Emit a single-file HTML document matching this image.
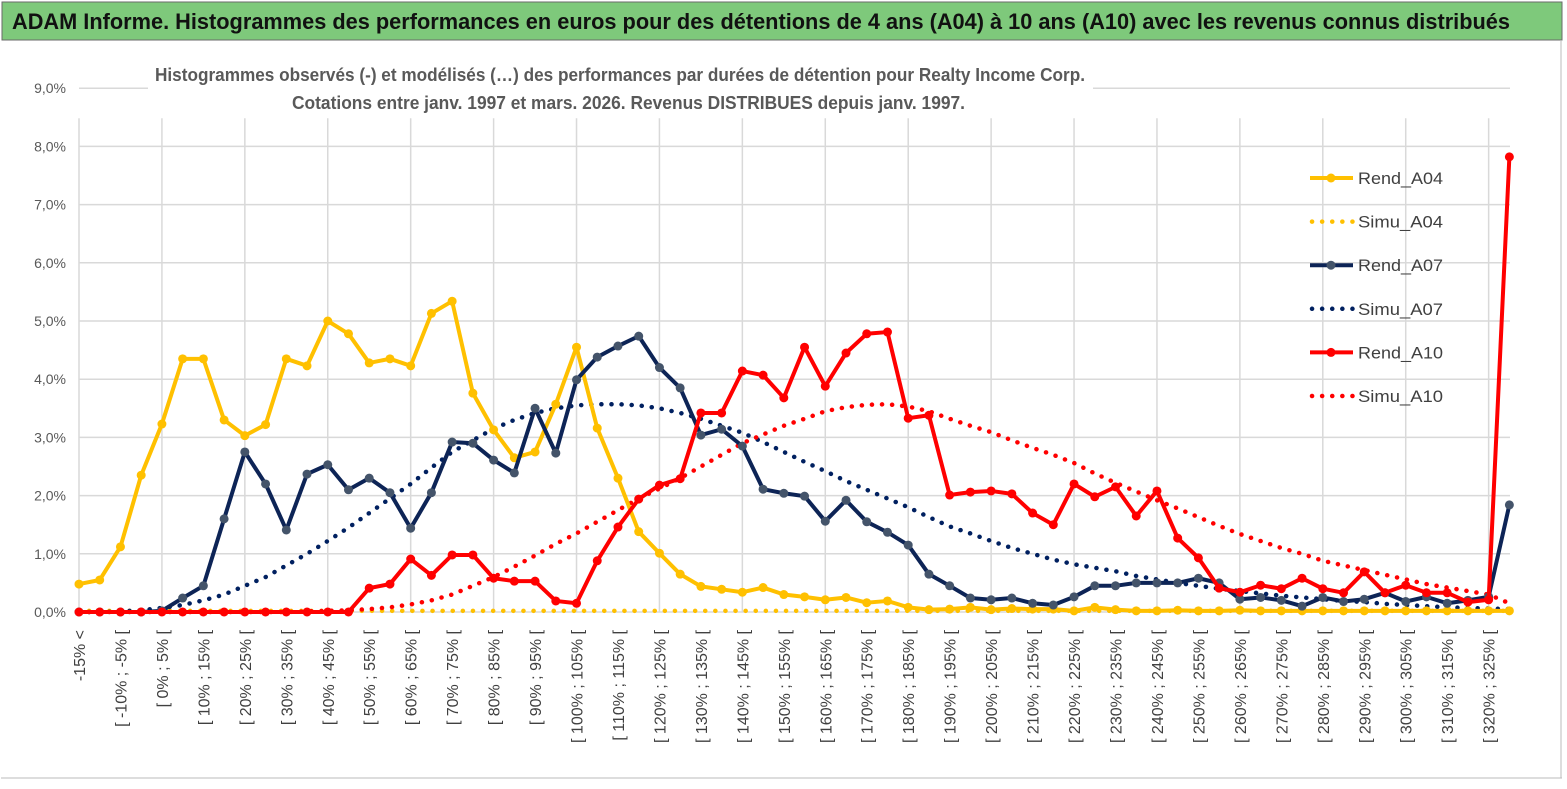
<!DOCTYPE html>
<html><head><meta charset="utf-8"><style>
body{margin:0;background:#fff;width:1567px;height:789px;overflow:hidden}
svg{display:block;font-family:"Liberation Sans",sans-serif}
</style></head><body>
<svg id="chart" width="1567" height="789" viewBox="0 0 1567 789">
<rect x="0" y="0" width="1567" height="789" fill="#fff"/>
<rect x="2" y="2" width="1560" height="38" fill="#7ec97b" stroke="#6a6a6a" stroke-width="1"/>
<text x="12" y="29" font-size="22" font-weight="bold" fill="#111" textLength="1498" lengthAdjust="spacingAndGlyphs">ADAM Informe. Histogrammes des performances en euros pour des détentions de 4 ans (A04) à 10 ans (A10) avec les revenus connus distribués</text>
<line x1="1" y1="778" x2="1562" y2="778" stroke="#bbb"/>
<line x1="1561" y1="40" x2="1561" y2="778" stroke="#bbb"/>
<g id="grid"></g>
<g id="yticks"></g>
<g id="xticks"></g>
<rect x="148" y="60" width="945" height="55" fill="#fff"/>
<text x="155" y="81" font-size="18" font-weight="bold" fill="#595959" textLength="930" lengthAdjust="spacingAndGlyphs">Histogrammes observés (-) et modélisés (…) des performances par durées de détention pour Realty Income Corp.</text>
<text x="292" y="109" font-size="18" font-weight="bold" fill="#595959" textLength="673" lengthAdjust="spacingAndGlyphs">Cotations entre janv. 1997 et mars. 2026. Revenus DISTRIBUES depuis janv. 1997.</text>
<g id="series"></g>
<g id="legend"></g>
</svg>
<script>
const categoriesCount = 70;
const yTickLabels = ["0,0%","1,0%","2,0%","3,0%","4,0%","5,0%","6,0%","7,0%","8,0%","9,0%"];
const rendA04 = [0.48,0.55,1.12,2.35,3.23,4.35,4.35,3.3,3.03,3.22,4.35,4.23,5.0,4.78,4.28,4.35,4.23,5.13,5.34,3.76,3.13,2.65,2.75,3.57,4.55,3.16,2.3,1.38,1.01,0.65,0.44,0.39,0.34,0.42,0.3,0.26,0.21,0.25,0.16,0.19,0.08,0.04,0.05,0.08,0.04,0.06,0.05,0.05,0.02,0.08,0.04,0.02,0.02,0.03,0.02,0.02,0.03,0.02,0.02,0.02,0.02,0.02,0.02,0.02,0.02,0.02,0.02,0.02,0.02,0.02];
const simuA04 = [0.02,0.02,0.02,0.02,0.02,0.02,0.02,0.02,0.02,0.02,0.02,0.02,0.02,0.02,0.02,0.02,0.02,0.02,0.02,0.02,0.02,0.02,0.02,0.02,0.02,0.02,0.02,0.02,0.02,0.02,0.02,0.02,0.02,0.02,0.02,0.02,0.02,0.02,0.02,0.02,0.02,0.02,0.02,0.02,0.02,0.02,0.02,0.02,0.02,0.02,0.02,0.02,0.02,0.02,0.02,0.02,0.02,0.02,0.02,0.02,0.02,0.02,0.02,0.02,0.02,0.02,0.02,0.02,0.02,0.02];
const rendA07 = [0,0,0,0,0.02,0.24,0.45,1.6,2.75,2.2,1.41,2.37,2.53,2.1,2.3,2.05,1.44,2.05,2.92,2.9,2.61,2.39,3.5,2.73,3.99,4.38,4.57,4.74,4.2,3.85,3.04,3.14,2.85,2.11,2.04,1.99,1.56,1.92,1.55,1.37,1.15,0.65,0.45,0.24,0.21,0.24,0.15,0.12,0.26,0.45,0.45,0.5,0.5,0.5,0.58,0.5,0.22,0.25,0.2,0.1,0.25,0.18,0.22,0.33,0.18,0.26,0.15,0.2,0.26,1.84];
const simuA07 = [0,0,0.01,0.03,0.07,0.12,0.2,0.3,0.45,0.6,0.8,1.0,1.22,1.45,1.7,1.95,2.2,2.48,2.75,2.95,3.15,3.3,3.42,3.5,3.55,3.57,3.57,3.55,3.5,3.42,3.32,3.2,3.08,2.92,2.75,2.58,2.42,2.25,2.1,1.95,1.8,1.63,1.47,1.35,1.22,1.1,1.0,0.9,0.82,0.76,0.7,0.62,0.56,0.5,0.45,0.4,0.36,0.32,0.28,0.25,0.22,0.19,0.17,0.14,0.12,0.1,0.08,0.07,0.06,0.05];
const rendA10 = [0,0,0,0,0,0,0,0,0,0,0,0,0,0,0.41,0.48,0.91,0.63,0.98,0.98,0.58,0.53,0.53,0.19,0.15,0.88,1.46,1.94,2.18,2.29,3.42,3.42,4.14,4.07,3.68,4.55,3.88,4.45,4.78,4.81,3.33,3.38,2.01,2.06,2.08,2.03,1.7,1.5,2.2,1.98,2.15,1.65,2.08,1.27,0.93,0.41,0.34,0.46,0.4,0.58,0.4,0.33,0.69,0.33,0.46,0.33,0.33,0.17,0.21,7.82];
const simuA10 = [0,0,0,0,0,0,0,0,0,0,0,0.01,0.02,0.03,0.05,0.08,0.13,0.2,0.3,0.45,0.6,0.78,0.97,1.17,1.35,1.55,1.75,1.95,2.12,2.3,2.5,2.7,2.9,3.05,3.2,3.32,3.45,3.52,3.56,3.57,3.53,3.45,3.32,3.2,3.09,2.95,2.82,2.7,2.56,2.38,2.22,2.07,1.92,1.78,1.63,1.48,1.34,1.22,1.1,1.0,0.88,0.8,0.72,0.64,0.56,0.48,0.42,0.36,0.3,0.15];
const seriesNames = ["Rend_A04","Simu_A04","Rend_A07","Simu_A07","Rend_A10","Simu_A10"];

const NS="http://www.w3.org/2000/svg";
const X0=79, XSTEP=20.73, Y0=612, YUNIT=58.2, XRIGHT=1510;
function xPos(i){return X0+i*XSTEP;}
function yPos(v){return Y0-v*YUNIT;}
function mk(tag,attrs,parent){const e=document.createElementNS(NS,tag);for(const k in attrs)e.setAttribute(k,attrs[k]);parent.appendChild(e);return e;}
function catLabel(i){if(i===0)return "-15% <";const a=-20+5*i,b=a+5;return "[ "+a+"% ; "+b+"% [";}

const grid=document.getElementById('grid');
for(let k=0;k<yTickLabels.length;k++){
  const l=mk('line',{x1:X0,x2:XRIGHT,y1:yPos(k),y2:yPos(k),stroke:'#d9d9d9','stroke-width':1.5},grid);
  
  
  const t=mk('text',{x:66,y:yPos(k)+5,'text-anchor':'end','font-size':14,fill:'#595959'},document.getElementById('yticks'));
  t.textContent=yTickLabels[k];
  
  
}
for(let i=0;i<categoriesCount;i+=4){
  const l=mk('line',{x1:xPos(i),x2:xPos(i),y1:yPos(9)+30,y2:Y0,stroke:'#d9d9d9','stroke-width':1.5},grid);
  
  
}
for(let i=0;i<categoriesCount;i+=2){
  const x=xPos(i)+6, y=630;
  const t=mk('text',{x:x,y:y,'text-anchor':'end','font-size':16,fill:'#404040',transform:`rotate(-90 ${x} ${y})`},document.getElementById('xticks'));
  t.textContent=catLabel(i);
  
  
}

const S=document.getElementById('series');
function drawLine(data,color,name,markerColor){
  const pts=data.map((v,i)=>xPos(i)+','+yPos(v)).join(' ');
  const p=mk('polyline',{points:pts,fill:'none',stroke:color,'stroke-width':4,'stroke-linejoin':'round'},S);
  
  
  data.forEach((v,i)=>{
    const c=mk('circle',{cx:xPos(i),cy:yPos(v),r:4.5,fill:markerColor},S);
    
    
  });
}
function drawDots(data,color,name){
  const pts=data.map((v,i)=>xPos(i)+','+yPos(v)).join(' ');
  const p=mk('polyline',{points:pts,fill:'none',stroke:color,'stroke-width':4.5,'stroke-dasharray':'0.1 10','stroke-linecap':'round'},S);
  
  
}
drawDots(simuA04,'#ffc000','simu-a04');
drawDots(simuA07,'#002060','simu-a07');
drawDots(simuA10,'#ff0000','simu-a10');
drawLine(rendA04,'#ffc000','rend-a04','#ffc000');
drawLine(rendA07,'#0d2456','rend-a07','#44546a');
drawLine(rendA10,'#ff0000','rend-a10','#ff0000');

const L=document.getElementById('legend');
const legColors=['#ffc000','#ffc000','#0d2456','#002060','#ff0000','#ff0000'];
seriesNames.forEach((n,k)=>{
  const y=178+k*43.6;
  const g=mk('g',{},L);
  
  
  if(k%2===0){
    mk('line',{x1:1310,x2:1353,y1:y,y2:y,stroke:legColors[k],'stroke-width':4},g);
    mk('circle',{cx:1331,cy:y,r:4.5,fill:k===2?'#44546a':legColors[k]},g);
  } else {
    mk('line',{x1:1312,x2:1353,y1:y,y2:y,stroke:legColors[k],'stroke-width':4.5,'stroke-dasharray':'0.1 10','stroke-linecap':'round'},g);
  }
  const t=mk('text',{x:1358,y:y+6,'font-size':17,fill:'#404040',textLength:85,lengthAdjust:'spacingAndGlyphs'},g);
  t.textContent=n;
});
</script>
</body></html>
